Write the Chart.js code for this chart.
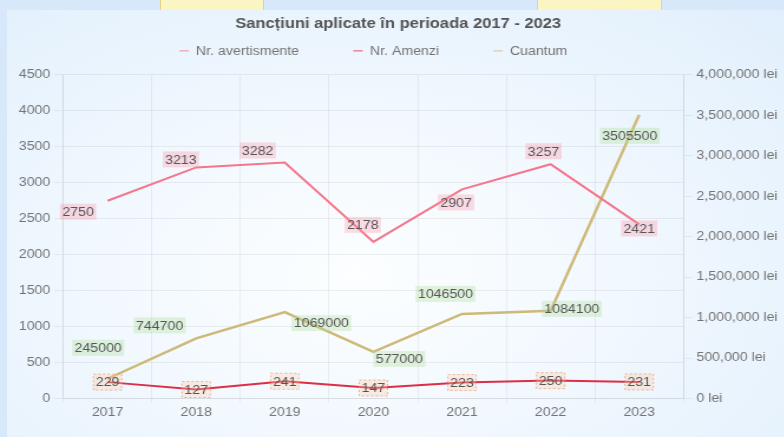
<!DOCTYPE html>
<html>
<head>
<meta charset="utf-8">
<title>Sancțiuni aplicate</title>
<script src="https://cdn.jsdelivr.net/npm/chart.js@4.4.1/dist/chart.umd.min.js"></script>
<style>
  html, body { margin: 0; padding: 0; }
  body { width: 784px; height: 437px; overflow: hidden; position: relative; background: #d6e8f9; }
  .deco { position: absolute; top: 0; height: 10px; background: #fbf5c4; border-left: 1px solid #e3d48a; border-right: 1px solid #e3d48a; }
  #panel {
    position: absolute; left: 7px; top: 10px; width: 777px; height: 427px;
    background: radial-gradient(ellipse at 45% 62%, #fcfeff 0%, #f1f8fe 45%, #e1effc 100%);
  }
  /* the reference picture is stretched sideways, so the chart is too */
  #wrap { position: absolute; left: 0; top: 0; width: 658px; height: 427px; transform: scaleX(1.18); transform-origin: 0 0; }
</style>
</head>
<body>
<div class="deco" style="left:160px; width:102px;"></div>
<div class="deco" style="left:537px; width:123px;"></div>
<div id="panel">
  <div id="wrap"><canvas id="myChart" width="658" height="427"></canvas></div>
</div>
<script>
// values
const years = ['2017', '2018', '2019', '2020', '2021', '2022', '2023'];
const avertismente = [2750, 3213, 3282, 2178, 2907, 3257, 2421];
const amenzi = [229, 127, 241, 147, 223, 250, 231];
const cuantum = [245000, 744700, 1069000, 577000, 1046500, 1084100, 3505500];

// small nudges of the value boxes, as in the picture (px)
const avertShiftX = [-25, -13, -23, -9, -5, -6, 0];
const avertShiftY = [11, -8, -12, -17, 13, -13, 4];
const cuantumShiftX = [-8, -31, 31, 22, -14, 18, -8];
const cuantumShiftY = [-31, -13, 11, 7, -20, -2, 21];
const noShift = [0, 0, 0, 0, 0, 0, 0];

Chart.defaults.font.family = '"Liberation Sans", Arial, sans-serif';
Chart.defaults.color = '#737373';

const legendGap = 46;

// boxes with the value of every point
const valueBoxes = {
  id: 'valueBoxes',
  afterDatasetsDraw(chart) {
    const ctx = chart.ctx;
    chart.data.datasets.forEach((ds, i) => {
      const meta = chart.getDatasetMeta(i);
      const st = ds.boxStyle;
      meta.data.forEach((pt, j) => {
        const text = String(ds.data[j]);
        ctx.save();
        ctx.font = '12px "Liberation Sans", Arial, sans-serif';
        const w = ctx.measureText(text).width;
        const x = pt.x + st.dx[j];
        const y = pt.y + st.dy[j];
        const bw = w + 4, bh = 16;
        ctx.fillStyle = st.bg;
        ctx.fillRect(x - bw / 2, y - bh / 2, bw, bh);
        if (st.border) {
          ctx.setLineDash([2, 2]);
          ctx.lineWidth = 1;
          ctx.strokeStyle = st.border;
          ctx.strokeRect(x - bw / 2, y - bh / 2, bw, bh);
        }
        ctx.fillStyle = '#555';
        ctx.textAlign = 'center';
        ctx.textBaseline = 'middle';
        ctx.fillText(text, x, y + 1);
        ctx.restore();
      });
    });
  }
};

// legend with short lines, centred over the plot
const lineLegend = {
  id: 'lineLegend',
  afterDraw(chart) {
    const ctx = chart.ctx;
    const area = chart.chartArea;
    ctx.save();
    ctx.font = '12px "Liberation Sans", Arial, sans-serif';
    const items = chart.data.datasets.map(ds => ({ ds: ds, w: 8 + 6 + ctx.measureText(ds.label).width }));
    let total = legendGap * (items.length - 1);
    items.forEach(it => { total += it.w; });
    let x = (area.left + area.right) / 2 - total / 2;
    const y = area.top - 24;
    items.forEach(it => {
      ctx.globalAlpha = 0.55;
      ctx.strokeStyle = it.ds.borderColor;
      ctx.lineWidth = 1.5;
      ctx.beginPath();
      ctx.moveTo(x, y);
      ctx.lineTo(x + 8, y);
      ctx.stroke();
      ctx.globalAlpha = 1;
      ctx.fillStyle = '#737373';
      ctx.textBaseline = 'middle';
      ctx.fillText(it.ds.label, x + 14, y + 1);
      x += it.w + legendGap;
    });
    ctx.restore();
  }
};

const data = {
  labels: years,
  datasets: [
    {
      label: 'Nr. avertismente',
      data: avertismente,
      yAxisID: 'y',
      borderColor: 'rgb(244, 118, 138)',
      backgroundColor: 'rgb(244, 118, 138)',
      borderWidth: 2,
      pointRadius: 0,
      boxStyle: { dx: avertShiftX, dy: avertShiftY, bg: 'rgba(255, 140, 160, 0.3)' }
    },
    {
      label: 'Nr. Amenzi',
      data: amenzi,
      yAxisID: 'y',
      borderColor: 'rgb(222, 45, 70)',
      backgroundColor: 'rgb(222, 45, 70)',
      borderWidth: 2,
      pointRadius: 0,
      boxStyle: { dx: noShift, dy: noShift, bg: 'rgba(255, 200, 160, 0.3)', border: 'rgba(225, 140, 100, 0.6)' }
    },
    {
      label: 'Cuantum',
      data: cuantum,
      yAxisID: 'y1',
      borderColor: 'rgb(205, 185, 120)',
      backgroundColor: 'rgb(205, 185, 120)',
      borderWidth: 2.5,
      pointRadius: 0,
      boxStyle: { dx: cuantumShiftX, dy: cuantumShiftY, bg: 'rgba(170, 220, 150, 0.32)' }
    }
  ]
};

const config = {
  type: 'line',
  data: data,
  plugins: [valueBoxes, lineLegend],
  options: {
    responsive: false,
    animation: false,
    layout: { padding: { left: 7, right: 2, top: 0, bottom: 14 } },
    plugins: {
      legend: { display: false },
      tooltip: { enabled: false },
      title: {
        display: true,
        text: 'Sancțiuni aplicate în perioada 2017 - 2023',
        color: '#555',
        font: { size: 14, weight: 'bold' },
        padding: { top: 6, bottom: 42 }
      }
    },
    scales: {
      x: {
        offset: true,
        grid: { offset: true, color: 'rgba(0,0,0,0.06)', tickLength: 4 },
        border: { color: 'rgba(0,0,0,0.06)' },
        ticks: { font: { size: 12 } }
      },
      y: {
        position: 'left',
        min: 0,
        max: 4500,
        grid: { color: 'rgba(0,0,0,0.06)' },
        border: { color: 'rgba(0,0,0,0.06)' },
        ticks: { stepSize: 500, font: { size: 12 }, callback: v => String(v) }
      },
      y1: {
        position: 'right',
        min: 0,
        max: 4000000,
        grid: { drawOnChartArea: false, color: 'rgba(0,0,0,0.06)' },
        border: { color: 'rgba(0,0,0,0.06)' },
        ticks: { stepSize: 500000, font: { size: 12 }, callback: v => v.toLocaleString('en-US') + ' lei' }
      }
    }
  }
};

const myChart = new Chart(document.getElementById('myChart'), config);
</script>
</body>
</html>
